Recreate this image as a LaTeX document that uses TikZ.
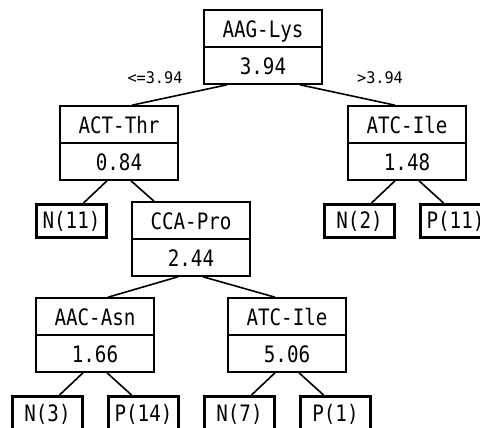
\documentclass[tikz,border=0pt]{standalone}
\usepackage{fontspec}
\newfontfamily\treefont[FakeStretch=0.85]{DejaVu Sans Mono}
\newfontfamily\condfont[FakeStretch=0.95]{DejaVu Sans Mono}
\usetikzlibrary{shapes.multipart,calc}
\newcommand\partstrut{\rule[-9pt]{0pt}{35.4pt}}
\tikzset{
  split/.style={rectangle split,rectangle split parts=2,draw,line width=1.6pt,
    minimum width=118.4pt,inner xsep=0pt,inner ysep=0pt,
    font=\treefont\fontsize{22.6}{22.6}\selectfont},
  leaf/.style={draw,line width=2.8pt,minimum width=70.2pt,minimum height=33.2pt,
    inner sep=0pt,text height=24.6pt,text depth=8.6pt,
    font=\treefont\fontsize{22.6}{22.6}\selectfont},
  edge/.style={line width=1.6pt},
  cond/.style={font=\condfont\fontsize{16}{16}\selectfont,inner sep=0pt,anchor=base}
}

\begin{document}
\begin{tikzpicture}[x=1pt,y=-1pt]
        \useasboundingbox (0,0) rectangle (480,428);
        \clip (0,0) rectangle (480,428);
        \node[split] (root) at (263,47) {\partstrut AAG-Lys\nodepart{two}\partstrut 3.94};
        \node[split] (act) at (119,143) {\partstrut ACT-Thr\nodepart{two}\partstrut 0.84};
        \node[split] (atc) at (407,143) {\partstrut ATC-Ile\nodepart{two}\partstrut 1.48};
        \node[leaf] (n11) at (71.5,221) {N(11)};
        \node[split] (cca) at (191,239) {\partstrut CCA-Pro\nodepart{two}\partstrut 2.44};
        \node[leaf] (n2) at (359.5,221) {N(2)};
        \node[leaf] (p11) at (455.5,221) {P(11)};
        \node[split] (aac) at (95,335) {\partstrut AAC-Asn\nodepart{two}\partstrut 1.66};
        \node[split] (atcb) at (287,335) {\partstrut ATC-Ile\nodepart{two}\partstrut 5.06};
        \node[leaf] (n3) at (47.5,413) {N(3)};
        \node[leaf] (p14) at (143.5,413) {P(14)};
        \node[leaf] (n7) at (239.5,413) {N(7)};
        \node[leaf] (p1) at (335.5,413) {P(1)};
        \node[cond] (le) at (155,84) {<=3.94};
        \node[cond] (gt) at (380,84) {>3.94};
        \draw[edge] ([xshift=-36pt]root.south) -- ([xshift=13pt]act.north);
        \draw[edge] ([xshift=37pt]root.south) -- ([xshift=-12pt]atc.north);
        \draw[edge] ([xshift=-12pt]act.south) -- ([xshift=12pt]n11.north);
        \draw[edge] ([xshift=12pt]act.south) -- ([xshift=-37pt]cca.north);
        \draw[edge] ([xshift=-12pt]atc.south) -- ([xshift=12pt]n2.north);
        \draw[edge] ([xshift=12pt]atc.south) -- ([xshift=-12pt]p11.north);
        \draw[edge] ([xshift=-13pt]cca.south) -- ([xshift=13pt]aac.north);
        \draw[edge] ([xshift=12pt]cca.south) -- ([xshift=-12pt]atcb.north);
        \draw[edge] ([xshift=-12pt]aac.south) -- ([xshift=12pt]n3.north);
        \draw[edge] ([xshift=12pt]aac.south) -- ([xshift=-12pt]p14.north);
        \draw[edge] ([xshift=-12pt]atcb.south) -- ([xshift=12pt]n7.north);
        \draw[edge] ([xshift=12pt]atcb.south) -- ([xshift=-12pt]p1.north);
      \end{tikzpicture}
\end{document}
